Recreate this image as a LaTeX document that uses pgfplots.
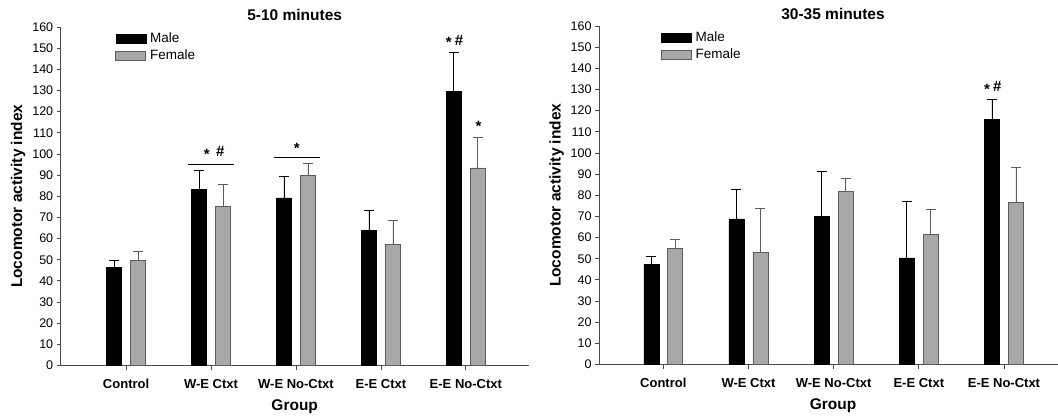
\documentclass[border=0pt]{standalone}
\usepackage{fontspec}
\setmainfont{Liberation Sans}
\usepackage{pgfplots}
\pgfplotsset{compat=1.18}

\definecolor{femalefill}{HTML}{A8A8A8}
\definecolor{femaleedge}{HTML}{5C5C5C}
\definecolor{axisgray}{HTML}{4A4A4A}

\newcommand{\sig}{\bfseries\fontsize{15}{17}\selectfont}

\pgfplotsset{
  locoaxis/.style={
    scale only axis, width=468pt, height=338.5pt,
    ymin=0, ymax=160, ytick={0,10,...,160},
    xtick={0,...,4},
    xticklabels={Control, W-E Ctxt, W-E No-Ctxt, E-E Ctxt, E-E No-Ctxt},
    axis x line=bottom, axis y line=left,
    axis line style={-, axisgray, line width=0.8pt},
    tick style={axisgray, line width=0.8pt},
    tick align=outside, major tick length=4pt,
    /pgf/number format/assume math mode=true,
    yticklabel style={font=\fontsize{12.5}{14}\selectfont},
    xticklabel style={font=\bfseries\fontsize{13}{15}\selectfont, yshift=-6pt},
    xlabel={Group}, ylabel={Locomotor activity index},
    xlabel style={yshift=-4pt},
    label style={font=\bfseries\fontsize{15.5}{18}\selectfont},
    title style={font=\bfseries\fontsize{15.5}{18}\selectfont, yshift=-3pt},
    ybar, bar width=15pt,
    legend style={draw=none, fill=none, anchor=north west,
      font=\fontsize{13.5}{15}\selectfont, legend cell align=left,
      row sep=2pt, nodes={inner xsep=4pt}},
    legend image code/.code={\draw[##1] (0pt,-4.5pt) rectangle (30pt,4.5pt);},
    clip=false,
  },
  malebar/.style={fill=black, draw=black, bar shift=-12pt,
    /pgfplots/error bars/y dir=plus, /pgfplots/error bars/y explicit,
    /pgfplots/error bars/error bar style={black, line width=0.8pt},
    /pgfplots/error bars/error mark options={rotate=90, mark size=5pt, black, line width=0.8pt}},
  femalebar/.style={fill=femalefill, draw=femaleedge, line width=0.8pt, bar shift=12pt,
    /pgfplots/error bars/y dir=plus, /pgfplots/error bars/y explicit,
    /pgfplots/error bars/error bar style={femaleedge, line width=0.8pt},
    /pgfplots/error bars/error mark options={rotate=90, mark size=5pt, femaleedge, line width=0.8pt}},
}

% 5-10 minutes: group index, mean, upper error
\pgfplotstableread{
x  y      e
0  46.3   3.6
1  83.3   8.9
2  79.2   10.3
3  64.0   9.2
4  129.7  18.5
}\earlymale
\pgfplotstableread{
x  y      e
0  49.8   3.9
1  75.3   10.4
2  89.8   5.7
3  57.2   11.3
4  93.4   14.2
}\earlyfemale
% 30-35 minutes
\pgfplotstableread{
x  y      e
0  47.2   4.0
1  68.8   14.2
2  70.0   21.1
3  50.4   26.8
4  115.8  9.5
}\latemale
\pgfplotstableread{
x  y      e
0  54.8   4.3
1  53.1   20.8
2  81.9   5.9
3  61.3   12.2
4  76.7   16.7
}\latefemale

\begin{document}
\begin{tikzpicture}
\useasboundingbox (0,0) rectangle (1058pt,416pt);

\begin{axis}[locoaxis, at={(60.7pt,50.5pt)}, anchor=south west,
  xmin=-0.77, xmax=4.74, title={5-10 minutes},
  legend style={at={(rel axis cs:0.11,0.995)}}]
  \addplot[malebar] table[x=x, y=y, y error=e] {\earlymale};
  \addplot[femalebar] table[x=x, y=y, y error=e] {\earlyfemale};
  \legend{Male, Female}
  \draw[black, line width=0.8pt] (axis cs:0.73,95) -- (axis cs:1.27,95);
  \draw[black, line width=0.8pt] (axis cs:1.74,98.5) -- (axis cs:2.28,98.5);
  \node[font=\sig, inner sep=0pt, yshift=-2.5pt] at (axis cs:0.95,101) {*};
  \node[font=\sig, inner sep=0pt] at (axis cs:1.11,101) {\#};
  \node[font=\sig, inner sep=0pt, yshift=-2.5pt] at (axis cs:2.01,103.8) {*};
  \node[font=\sig, inner sep=0pt, yshift=-2.5pt] at (axis cs:3.80,153.8) {*};
  \node[font=\sig, inner sep=0pt] at (axis cs:3.92,153.8) {\#};
  \node[font=\sig, inner sep=0pt, yshift=-2.5pt] at (axis cs:4.15,114) {*};
\end{axis}

\begin{axis}[locoaxis, at={(599pt,51.5pt)}, anchor=south west,
  xmin=-0.755, xmax=4.74, title={30-35 minutes},
  legend style={at={(rel axis cs:0.125,0.995)}}]
  \addplot[malebar] table[x=x, y=y, y error=e] {\latemale};
  \addplot[femalebar] table[x=x, y=y, y error=e] {\latefemale};
  \legend{Male, Female}
  \node[font=\sig, inner sep=0pt, yshift=-2.5pt] at (axis cs:3.80,131.3) {*};
  \node[font=\sig, inner sep=0pt] at (axis cs:3.92,131.3) {\#};
\end{axis}
\end{tikzpicture}
\end{document}
